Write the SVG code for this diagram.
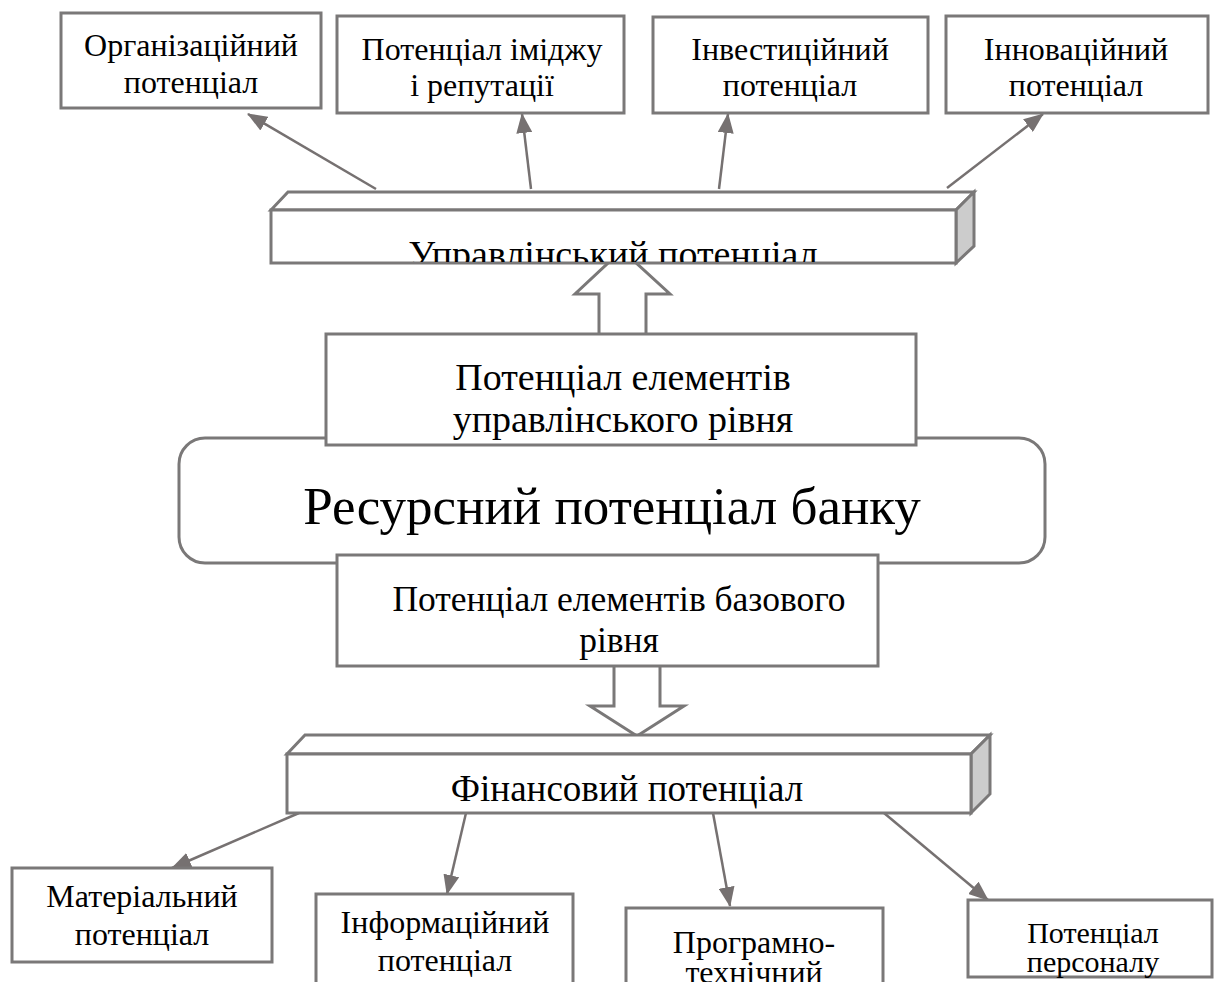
<svg xmlns="http://www.w3.org/2000/svg" width="1216" height="982" viewBox="0 0 1216 982">
<defs>
<style>
.box{fill:#fff;stroke:#7a7878;stroke-width:3}
.side{fill:#cccccc;stroke:#7a7878;stroke-width:3;stroke-linejoin:miter}
.conn{stroke:#767171;stroke-width:2.5;fill:none}
.hol{fill:#fff;stroke:#7a7878;stroke-width:3;stroke-linejoin:miter}
.t{fill:#000;text-anchor:middle}
.s{font-size:32px}
.m{font-size:37px}
.l{font-size:53px}
</style>
<marker id="ah" viewBox="0 0 20 16" refX="19" refY="8" markerWidth="20" markerHeight="16" markerUnits="userSpaceOnUse" orient="auto">
<path d="M0,0 L20,8 L0,16 Z" fill="#767171"/>
</marker>
<clipPath id="c1"><rect x="272" y="211" width="683" height="51"/></clipPath>
</defs>

<g id="connectors">
<line class="conn" x1="376" y1="189" x2="248" y2="114" marker-end="url(#ah)"/>
<line class="conn" x1="531" y1="189" x2="522" y2="114" marker-end="url(#ah)"/>
<line class="conn" x1="719" y1="189" x2="728" y2="114" marker-end="url(#ah)"/>
<line class="conn" x1="947" y1="188" x2="1043" y2="114" marker-end="url(#ah)"/>
<line class="conn" x1="299" y1="813" x2="172" y2="868" marker-end="url(#ah)"/>
<line class="conn" x1="466" y1="813" x2="447" y2="894" marker-end="url(#ah)"/>
<line class="conn" x1="713" y1="813" x2="730" y2="906" marker-end="url(#ah)"/>
<line class="conn" x1="884" y1="813" x2="988" y2="900" marker-end="url(#ah)"/>
</g>

<g font-family="Liberation Serif, Times New Roman, DejaVu Serif, serif">
<g id="box-org"><rect class="box" x="61" y="13" width="260" height="95"/>
<text class="t s" x="191" y="56">Організаційний</text><text class="t s" x="191" y="93">потенціал</text></g>
<g id="box-image"><rect class="box" x="337" y="16" width="287" height="97"/>
<text class="t s" x="482" y="60">Потенціал іміджу</text><text class="t s" x="482" y="96">і репутації</text></g>
<g id="box-invest"><rect class="box" x="653" y="17" width="275" height="96"/>
<text class="t s" x="790" y="60">Інвестиційний</text><text class="t s" x="790" y="96">потенціал</text></g>
<g id="box-innov"><rect class="box" x="946" y="16" width="262" height="97"/>
<text class="t s" x="1076" y="60">Інноваційний</text><text class="t s" x="1076" y="96">потенціал</text></g>

<g id="arrow-up"><path class="hol" d="M599,334 L599,294 L575,294 L622,250 L670,294 L646,294 L646,334"/></g>
<g id="arrow-down"><path class="hol" d="M614,666 L614,706 L590,706 L637,736 L684,706 L660,706 L660,666"/></g>

<g id="prism-top">
<path class="box" d="M271,210 L288,192 L974,192 L956,210 Z"/>
<path class="side" d="M956,210 L974,192 L974,246 L956,263 Z"/>
<rect class="box" x="271" y="210" width="685" height="53"/>
<text class="t" font-size="38" x="613" y="267" clip-path="url(#c1)">Управлінський потенціал</text>
</g>

<g id="resource"><rect class="box" x="179" y="438" width="866" height="125" rx="26"/>
<text class="t l" x="612" y="524">Ресурсний потенціал банку</text></g>

<g id="box-mgmt"><rect class="box" x="326" y="334" width="590" height="111"/>
<text class="t" font-size="38" x="623" y="390">Потенціал елементів</text><text class="t" font-size="38" x="623" y="432">управлінського рівня</text></g>

<g id="box-base"><rect class="box" x="337" y="555" width="541" height="111"/>
<text class="t" font-size="35.5" x="619" y="611">Потенціал елементів базового</text><text class="t" font-size="35.5" x="619" y="652">рівня</text></g>

<g id="prism-bottom">
<path class="box" d="M287,754 L305,735 L990,735 L971,754 Z"/>
<path class="side" d="M971,754 L990,735 L990,794 L971,813 Z"/>
<rect class="box" x="287" y="754" width="684" height="59"/>
<text class="t m" x="627" y="801">Фінансовий потенціал</text>
</g>

<g id="box-mat"><rect class="box" x="12" y="868" width="260" height="94"/>
<text class="t s" x="142" y="907">Матеріальний</text><text class="t s" x="142" y="945">потенціал</text></g>
<g id="box-info"><rect class="box" x="316" y="894" width="257" height="100"/>
<text class="t s" x="445" y="933">Інформаційний</text><text class="t s" x="445" y="971">потенціал</text></g>
<g id="box-prog"><rect class="box" x="626" y="908" width="257" height="90"/>
<text class="t s" x="754" y="953">Програмно-</text><text class="t s" x="754" y="983">технічний</text></g>
<g id="box-pers"><rect class="box" x="968" y="900" width="244" height="77"/>
<text class="t" font-size="30" x="1093" y="943">Потенціал</text><text class="t" font-size="30" x="1093" y="972">персоналу</text></g>
</g>
</svg>
